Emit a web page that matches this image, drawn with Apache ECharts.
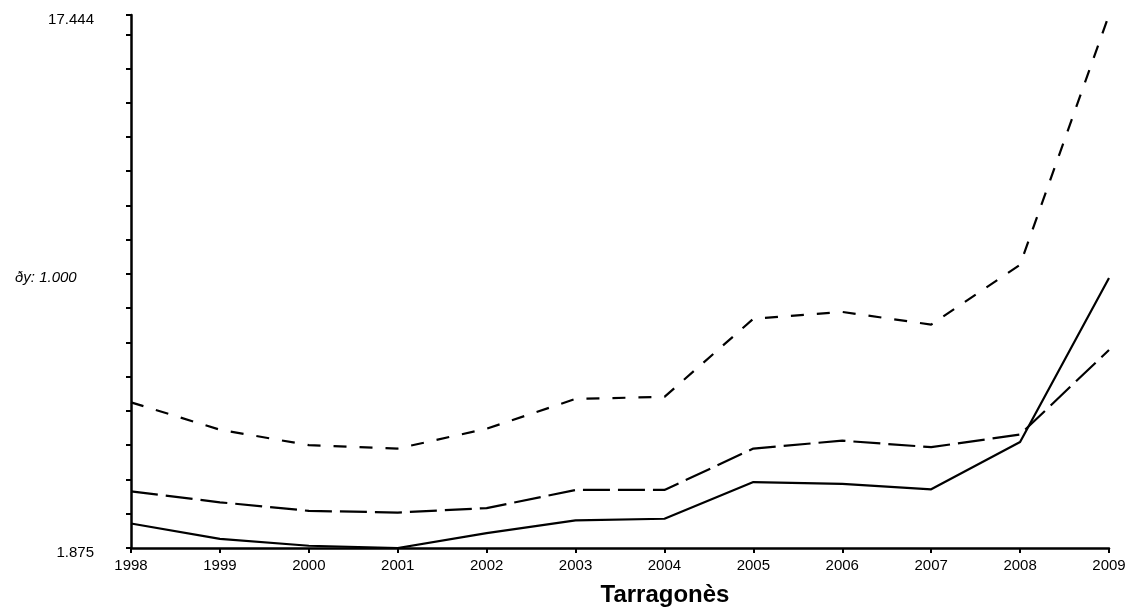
<!DOCTYPE html>
<html>
<head>
<meta charset="utf-8">
<script src="https://cdn.jsdelivr.net/npm/echarts@6/dist/echarts.min.js"></script>
<style>
html,body{margin:0;padding:0;background:#fff;}
#chart{width:1132px;height:611px;}
</style>
</head>
<body>
<div id="chart"></div>
<script>
var years = ['1998','1999','2000','2001','2002','2003','2004','2005','2006','2007','2008','2009'];
var seriesSolid = [2.59, 2.14, 1.94, 1.875, 2.31, 2.68, 2.73, 3.80, 3.75, 3.59, 4.97, 9.76];
var seriesLongDash = [3.53, 3.21, 2.96, 2.91, 3.04, 3.57, 3.57, 4.78, 5.01, 4.82, 5.19, 7.66];
var seriesShortDash = [6.13, 5.33, 4.88, 4.78, 5.36, 6.23, 6.29, 8.57, 8.77, 8.40, 10.15, 17.444];
var yMin = 1.875;
var yMax = 17.444;
var yStep = 1;
var yStepLabel = 'ðy: 1.000';
var chartTitle = 'Tarragonès';

var font = 'Liberation Sans, Arial, sans-serif';
var chart = echarts.init(document.getElementById('chart'), null, {renderer: 'canvas'});

function lineSeries(data, dash) {
  return {
    type: 'line',
    data: data,
    symbol: 'none',
    smooth: false,
    animation: false,
    lineStyle: {color: '#000', width: 2.2, type: dash}
  };
}

chart.setOption({
  animation: false,
  backgroundColor: '#fff',
  grid: {left: 131, right: 23, top: 15, bottom: 63, containLabel: false},
  title: {
    text: chartTitle,
    left: 660,
    top: 578,
    textAlign: 'center',
    textStyle: {fontFamily: font, fontSize: 24, fontWeight: 'bold', color: '#000'}
  },
  graphic: [{
    type: 'text',
    left: 15,
    top: 270,
    style: {text: yStepLabel, font: 'italic 15px ' + font, fill: '#000'}
  }],
  xAxis: {
    type: 'category',
    data: years,
    boundaryGap: false,
    axisLine: {lineStyle: {color: '#000', width: 2.5}},
    axisTick: {show: true, length: 5, alignWithLabel: true, lineStyle: {color: '#000', width: 2}},
    axisLabel: {color: '#000', fontFamily: font, fontSize: 15, margin: 10, interval: 0},
    splitLine: {show: false}
  },
  yAxis: {
    type: 'value',
    min: yMin,
    max: yMax,
    interval: yStep,
    axisLine: {show: true, lineStyle: {color: '#000', width: 2.5}},
    axisTick: {show: true, length: 5, lineStyle: {color: '#000', width: 2}},
    splitLine: {show: false},
    axisLabel: {
      color: '#000', fontFamily: font, fontSize: 15, margin: 37,
      showMinLabel: true, showMaxLabel: true,
      rich: {v: {fontFamily: font, fontSize: 15, color: '#000', padding: [10, 0, 0, 0]}},
      formatter: function (v) {
        if (Math.abs(v - yMin) < 1e-6) return '{v|' + yMin.toFixed(3) + '}';
        if (Math.abs(v - yMax) < 1e-6) return '{v|' + yMax.toFixed(3) + '}';
        return '';
      }
    }
  },
  series: [
    lineSeries(seriesSolid, 'solid'),
    lineSeries(seriesLongDash, [27, 8]),
    lineSeries(seriesShortDash, [13, 13])
  ]
});
</script>
</body>
</html>
